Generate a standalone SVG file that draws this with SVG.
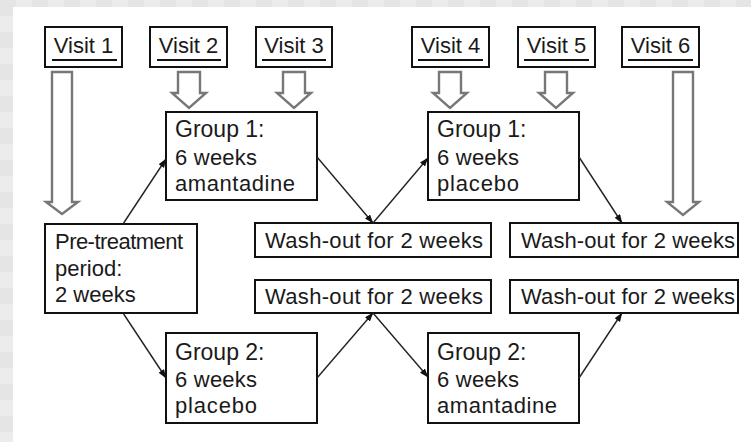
<svg xmlns="http://www.w3.org/2000/svg" width="751" height="442" viewBox="0 0 751 442">
<defs>
<pattern id="chk" width="32" height="32" patternUnits="userSpaceOnUse">
<rect width="32" height="32" fill="#ececec"/>
<rect width="16" height="16" fill="#e5e5e5"/>
<rect x="16" y="16" width="16" height="16" fill="#e5e5e5"/>
</pattern>
<marker id="ah" markerWidth="9" markerHeight="7" refX="8.5" refY="3.25" orient="auto" markerUnits="userSpaceOnUse">
<path d="M0,0 L9,3.25 L0,6.5 Z" fill="#111"/>
</marker>
<style>
.box{fill:#fff;stroke:#111;stroke-width:2}
.t{font-family:"Liberation Sans",Arial,sans-serif;font-size:22px;fill:#1a1a1a}
.g{font-size:23px}
.c{text-anchor:middle}
.ul{stroke:#111;stroke-width:1.8}
.blk{fill:#fff;stroke:#777;stroke-width:2.4;stroke-linejoin:miter}
.con{stroke:#222;stroke-width:1.4;fill:none;marker-end:url(#ah)}
</style>
</defs>
<rect width="751" height="442" fill="url(#chk)"/>
<rect x="13" y="7" width="738" height="435" fill="#fff"/>

<g id="visit1"><rect class="box" x="45" y="27" width="77" height="40"/><text class="t c" x="83.5" y="53">Visit 1</text><line class="ul" x1="52" y1="60" x2="117" y2="60"/></g>
<g id="visit2"><rect class="box" x="150" y="27" width="77" height="40"/><text class="t c" x="188.5" y="53">Visit 2</text><line class="ul" x1="157" y1="60" x2="221" y2="60"/></g>
<g id="visit3"><rect class="box" x="256" y="27" width="76" height="40"/><text class="t c" x="294" y="53">Visit 3</text><line class="ul" x1="262" y1="60" x2="326" y2="60"/></g>
<g id="visit4"><rect class="box" x="412" y="27" width="77" height="40"/><text class="t c" x="450.5" y="53">Visit 4</text><line class="ul" x1="418" y1="60" x2="483" y2="60"/></g>
<g id="visit5"><rect class="box" x="518" y="27" width="77" height="40"/><text class="t c" x="556.5" y="53">Visit 5</text><line class="ul" x1="524" y1="60" x2="589" y2="60"/></g>
<g id="visit6"><rect class="box" x="622" y="27" width="77" height="40"/><text class="t c" x="660.5" y="53">Visit 6</text><line class="ul" x1="628" y1="60" x2="693" y2="60"/></g>

<g id="visit-arrows">
<path class="blk" d="M52,72 H72 V202 H78 L62,214 L46,202 H52 Z"/>
<path class="blk" d="M178,72 H200 V93 H206 L189,108 L172,93 H178 Z"/>
<path class="blk" d="M283,72 H305 V93 H311 L294,108 L277,93 H283 Z"/>
<path class="blk" d="M439,72 H461 V93 H467 L450,108 L433,93 H439 Z"/>
<path class="blk" d="M545,72 H567 V93 H573 L556,108 L539,93 H545 Z"/>
<path class="blk" d="M673,72 H693 V202 H699 L683,215 L667,202 H673 Z"/>
</g>

<g id="pretreatment"><rect class="box" x="45" y="224" width="152" height="89"/>
<text class="t" x="55" y="249" textLength="128">Pre-treatment</text>
<text class="t" x="55" y="276">period:</text>
<text class="t" x="55" y="302">2 weeks</text></g>

<g id="g1-amantadine"><rect class="box" x="166" y="112" width="151" height="88"/>
<text class="t g" x="175" y="137">Group 1:</text>
<text class="t" x="175" y="165" textLength="82">6 weeks</text>
<text class="t" x="175" y="191" textLength="120">amantadine</text></g>

<g id="g1-placebo"><rect class="box" x="428" y="112" width="151" height="88"/>
<text class="t g" x="437" y="137">Group 1:</text>
<text class="t" x="437" y="165" textLength="82">6 weeks</text>
<text class="t" x="437" y="191" textLength="82">placebo</text></g>

<g id="washout1"><rect class="box" x="255" y="223" width="236" height="34"/><text class="t" x="265" y="248" textLength="218">Wash-out for 2 weeks</text></g>
<g id="washout2"><rect class="box" x="255" y="280" width="236" height="33"/><text class="t" x="265" y="304" textLength="218">Wash-out for 2 weeks</text></g>
<g id="washout3"><rect class="box" x="510" y="223" width="228" height="34"/><text class="t" x="521" y="248" textLength="214">Wash-out for 2 weeks</text></g>
<g id="washout4"><rect class="box" x="510" y="280" width="228" height="33"/><text class="t" x="521" y="304" textLength="214">Wash-out for 2 weeks</text></g>

<g id="g2-placebo"><rect class="box" x="166" y="333" width="151" height="90"/>
<text class="t g" x="175" y="360">Group 2:</text>
<text class="t" x="175" y="387" textLength="82">6 weeks</text>
<text class="t" x="175" y="413" textLength="82">placebo</text></g>

<g id="g2-amantadine"><rect class="box" x="428" y="333" width="151" height="90"/>
<text class="t g" x="437" y="360">Group 2:</text>
<text class="t" x="437" y="387" textLength="82">6 weeks</text>
<text class="t" x="437" y="413" textLength="120">amantadine</text></g>

<g id="connectors">
<line class="con" x1="123" y1="224" x2="166" y2="159"/>
<line class="con" x1="123" y1="313" x2="166" y2="378"/>
<line class="con" x1="317" y1="157" x2="373" y2="223"/>
<line class="con" x1="373" y1="223" x2="428" y2="158"/>
<line class="con" x1="579" y1="157" x2="622" y2="223"/>
<line class="con" x1="317" y1="378" x2="373" y2="313"/>
<line class="con" x1="373" y1="313" x2="428" y2="377"/>
<line class="con" x1="579" y1="378" x2="622" y2="313"/>
</g>
</svg>
